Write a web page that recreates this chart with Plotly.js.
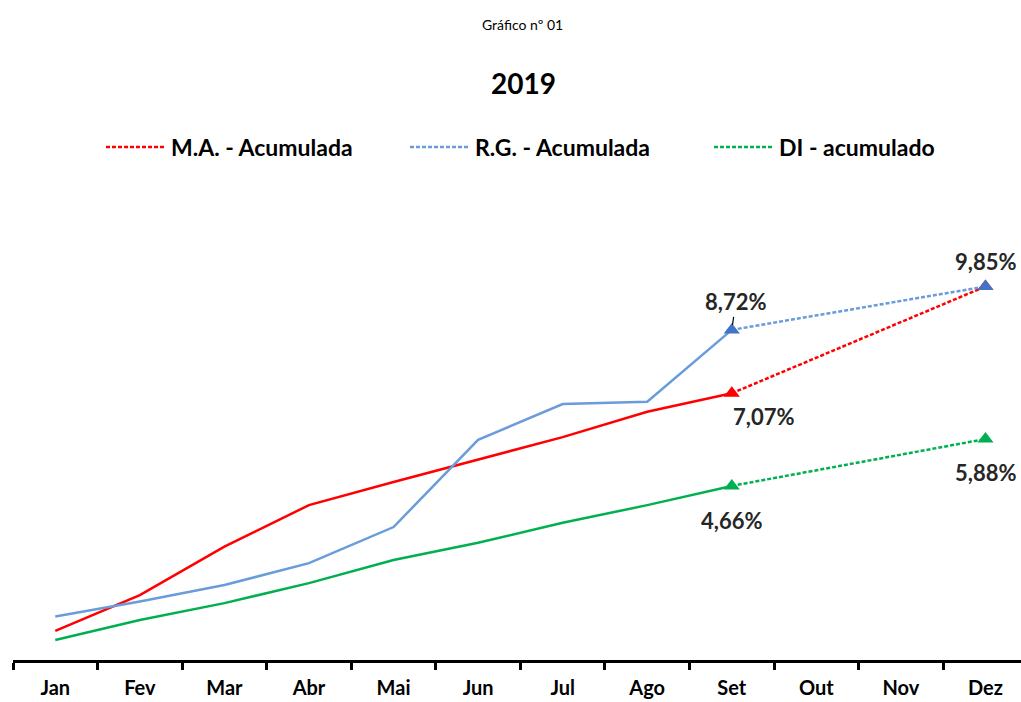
<!DOCTYPE html>
<html><head><meta charset="utf-8">
<script src="https://cdn.plot.ly/plotly-3.0.1.min.js"></script>
<style>html,body{margin:0;padding:0;overflow:hidden;background:#fff}</style>
</head><body><div id="chart" style="width:1021px;height:702px"></div>
<script>
const months = ["Jan","Fev","Mar","Abr","Mai","Jun","Jul","Ago","Set","Out","Nov","Dez"];
const realMonths = ["Jan","Fev","Mar","Abr","Mai","Jun","Jul","Ago","Set"];
const maAcum = [0.89,1.82,3.08,4.16,4.76,5.34,5.93,6.59,7.07];
const rgAcum = [1.26,1.65,2.08,2.65,3.59,5.86,6.79,6.85,8.72];
const diAcum = [0.65,1.17,1.61,2.13,2.73,3.18,3.70,4.16,4.66];
const projMonths = ["Set","Dez"];
const maProj = [7.07,9.85];
const rgProj = [8.72,9.85];
const diProj = [4.66,5.88];
const seriesNames = ["M.A. - Acumulada","R.G. - Acumulada","DI - acumulado"];

const RED = "#FF0000", BLUE = "#6A9BDB", BLUE_M = "#4472C4", GREEN = "#00B050";
const FONT = "Lato, 'Open Sans', sans-serif";

function solid(y, color){
  return {x: realMonths, y: y, type:"scatter", mode:"lines", showlegend:false,
    line:{color:color, width:2.5}, hoverinfo:"skip"};
}
function proj(y, color, name){
  return {x: projMonths, y: y, type:"scatter", mode:"lines", name:name,
    line:{color:color, width:2.5, dash:"4px,2px"}};
}
function marks(y, mcolor){
  return {x: projMonths, y: y, type:"scatter", mode:"markers", showlegend:false,
    marker:{symbol:"triangle-up", size:14, color:mcolor}};
}
const traces = [
  solid(maAcum, RED), solid(rgAcum, BLUE), solid(diAcum, GREEN),
  proj(maProj, RED, seriesNames[0]),
  proj(rgProj, BLUE, seriesNames[1]),
  proj(diProj, GREEN, seriesNames[2]),
  marks(maProj, RED), marks(rgProj, BLUE_M), marks(diProj, GREEN)
];

const fmt = v => v.toFixed(2).replace(".", ",") + "%";
const lblFont = {family: FONT, size: 22, color: "#262626", weight: "bold"};
const annotations = [
  {x:"Set", y:rgProj[0], text:fmt(rgProj[0]), showarrow:true, arrowhead:0, arrowwidth:1.2, arrowcolor:"#000", ax:4, ay:-28, standoff:5, font:lblFont},
  {x:"Set", y:maProj[0], text:fmt(maProj[0]), showarrow:false, xshift:32, yshift:-23, font:lblFont},
  {x:"Set", y:diProj[0], text:fmt(diProj[0]), showarrow:false, yshift:-35, font:lblFont},
  {x:"Dez", y:rgProj[1], text:fmt(rgProj[1]), showarrow:false, yshift:25, font:lblFont},
  {x:"Dez", y:diProj[1], text:fmt(diProj[1]), showarrow:false, yshift:-33, font:lblFont},
  {xref:"paper", yref:"paper", x:(522-13)/1008, y:(660-24)/460, yanchor:"middle", text:"Gráfico nº 01", showarrow:false,
   font:{family:FONT, size:14, color:"#000"}},
  {xref:"paper", yref:"paper", x:(523-13)/1008, y:(660-83)/460, yanchor:"middle", text:"2019", showarrow:false,
   font:{family:FONT, size:28, color:"#000", weight:"bold"}}
];

const layout = {
  width:1021, height:702,
  margin:{l:13, r:0, t:200, b:42},
  paper_bgcolor:"#fff", plot_bgcolor:"#fff",
  font:{family:FONT, color:"#000"},
  xaxis:{type:"category", categoryarray:months, categoryorder:"array",
    range:[-0.5, 11.42], tickson:"boundaries", ticks:"outside", ticklen:7, tickwidth:3,
    tickcolor:"#000", showline:true, linecolor:"#000", linewidth:3, showgrid:false, zeroline:false,
    ticklabelstandoff:8,
    tickfont:{family:FONT, size:20, color:"#000", weight:"bold"}},
  yaxis:{range:[0.13, 12.1], visible:false, showgrid:false, zeroline:false},
  showlegend:true,
  legend:{orientation:"h", xanchor:"left", x:(101-13)/1008, yanchor:"middle", y:(660-147)/460,
    entrywidth:229, entrywidthmode:"pixels", itemwidth:60,
    font:{family:FONT, size:23, color:"#000", weight:"bold"}, bgcolor:"rgba(0,0,0,0)"},
  annotations: annotations
};
Plotly.newPlot("chart", traces, layout, {displayModeBar:false, staticPlot:true});
</script></body></html>
